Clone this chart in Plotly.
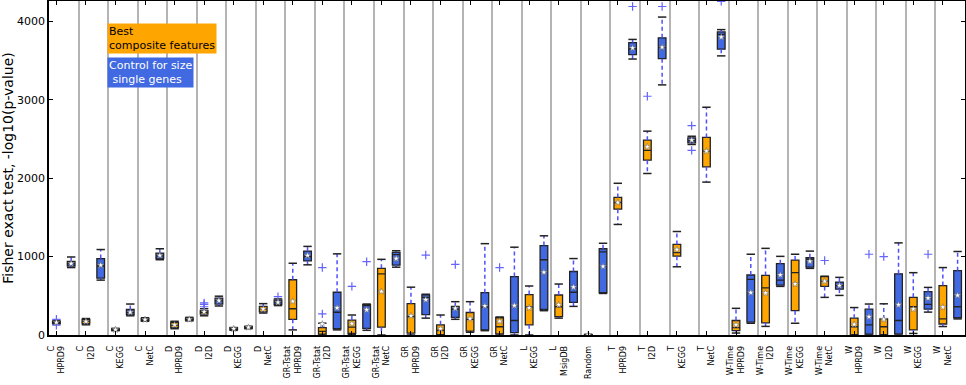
import plotly.graph_objects as go

groups = ["C", "C", "C", "C", "D", "D", "D", "D",
          "GR-Tstat", "GR-Tstat", "GR-Tstat", "GR-Tstat",
          "GR", "GR", "GR", "GR", "L", "L", "Random",
          "T", "T", "T", "T", "W-Time", "W-Time", "W-Time", "W-Time",
          "W", "W", "W", "W"]
networks = ["HPRD9", "I2D", "KEGG", "NetC", "HPRD9", "I2D", "KEGG", "NetC",
            "HPRD9", "I2D", "KEGG", "NetC", "HPRD9", "I2D", "KEGG", "NetC",
            "KEGG", "MsigDB", "", "HPRD9", "I2D", "KEGG", "NetC",
            "HPRD9", "I2D", "KEGG", "NetC", "HPRD9", "I2D", "KEGG", "NetC"]

# Best composite features (orange)
comp_q1 = [150, 145, 60, 185, 95, 265, 70, 295, 200, 10, 20, 100, 25, 5, 50, 15,
           130, 235, 0, 1605, 2230, 1005, 2145, 55, 155, 310, 620, 5, 5, 65, 140]
comp_med = [160, 175, 68, 197, 125, 290, 80, 335, 335, 45, 100, 780, 235, 60, 200, 105,
            360, 360, 2, 1690, 2355, 1050, 2350, 95, 600, 795, 690, 105, 105, 360, 205]
comp_q3 = [172, 195, 78, 210, 160, 310, 90, 365, 705, 95, 190, 850, 400, 130, 287, 220,
           515, 510, 5, 1755, 2485, 1155, 2520, 185, 760, 955, 745, 215, 205, 480, 630]
comp_lo = [140, 130, 55, 175, 80, 245, 60, 280, 65, 0, 5, 0, 0, 0, 35, 0,
           0, 215, 0, 1410, 2060, 870, 1950, 25, 110, 150, 480, 0, 0, 20, 108]
comp_hi = [180, 210, 85, 220, 175, 335, 95, 400, 915, 150, 255, 965, 610, 255, 425, 230,
           625, 650, 8, 1935, 2600, 1320, 2905, 340, 1105, 1030, 750, 350, 398, 795, 860]
comp_mean = [160, 172, 68, 197, 128, 295, 80, 330, 430, 140, 145, 555, 245, 80, 210, 175,
             345, 385, 3, 1690, 2400, 1090, 2345, 130, 535, 650, 685, 135, 200, 330, 355]
comp_out = [[200, 125], [], [], [], [], [360, 390, 410], [], [], [], [270, 860], [620], [],
            [], [], [], [860], [], [], [], [], [3045], [], [], [], [], [], [950],
            [], [1000], [], []]

# Control for size single genes (blue)
ctrl_q1 = [880, 725, 260, 975, 190, 395, 88, 390, 945, 80, 85, 890, 260, 225, 65, 30,
           325, 415, 540, 3575, 3525, 2450, 3645, 165, 635, 865, 585, 10, 15, 330, 220]
ctrl_med = [910, 880, 290, 1010, 200, 440, 97, 420, 1000, 290, 375, 1025, 480, 330, 355, 185,
            960, 545, 1060, 3650, 3675, 2480, 3835, 710, 700, 965, 630, 130, 185, 390, 360]
ctrl_q3 = [940, 975, 325, 1045, 212, 470, 105, 445, 1070, 545, 388, 1055, 512, 365, 540, 745,
           1140, 810, 1100, 3730, 3790, 2515, 3865, 765, 910, 985, 675, 330, 780, 552, 820]
ctrl_lo = [860, 700, 245, 960, 180, 370, 80, 375, 895, 65, 60, 865, 215, 200, 55, 0,
           310, 365, 530, 3520, 3190, 2430, 3560, 150, 620, 850, 505, 0, 0, 292, 205]
ctrl_hi = [995, 1090, 395, 1100, 225, 495, 112, 460, 1130, 1035, 395, 1075, 520, 425, 1165, 1120,
           1265, 975, 1170, 3770, 4055, 2535, 3895, 1030, 1003, 1070, 735, 395, 1175, 607, 1065]
ctrl_mean = [910, 890, 289, 1014, 200, 439, 97, 417, 1014, 345, 320, 975, 450, 340, 370, 375,
             800, 610, 875, 3660, 3670, 2485, 3800, 540, 765, 940, 630, 232, 385, 470, 505]
ctrl_out = [[], [], [], [], [], [], [], [490], [], [], [935], [], [1020], [900], [], [],
            [], [], [], [4190], [4190], [2670, 2355], [4255], [], [], [], [],
            [1030], [], [1030], []]

y_ticks = [0, 1000, 2000, 3000, 4000]

tick_text = [g if not n else f"{g}<br>{n}" for g, n in zip(groups, networks)]
n = len(groups)
pos_c = [i + 0.25 for i in range(n)]
pos_s = [i + 0.75 for i in range(n)]

FONT = "DejaVu Sans"
WHISK = "rgb(80,80,255)"
fig = go.Figure()


def add_series(pos, q1, med, q3, lo, hi, mean, out, fill):
    fig.add_trace(go.Box(x=pos, q1=q1, median=med, q3=q3, lowerfence=q1, upperfence=q3,
                         fillcolor=fill, line=dict(color="#222", width=1.3), width=0.26,
                         whiskerwidth=0, boxpoints=False, showlegend=False, hoverinfo="skip"))
    wx, wy = [], []
    for p, a, b, c, d in zip(pos, q1, q3, lo, hi):
        wx += [p, p, None, p, p, None]
        wy += [b, d, None, a, c, None]
    fig.add_trace(go.Scatter(x=wx, y=wy, mode="lines", showlegend=False, hoverinfo="skip",
                             line=dict(color=WHISK, width=1.5, dash="4px,3px")))
    cx, cy = [], []
    for p, c, d in zip(pos, lo, hi):
        cx += [p, p]
        cy += [c, d]
    fig.add_trace(go.Scatter(x=cx, y=cy, mode="markers", showlegend=False, hoverinfo="skip",
                             marker=dict(symbol="line-ew", size=6,
                                         line=dict(color="#222", width=1.5))))
    ox, oy = [], []
    for p, o in zip(pos, out):
        for v in o:
            ox.append(p)
            oy.append(v)
    fig.add_trace(go.Scatter(x=ox, y=oy, mode="markers", showlegend=False, hoverinfo="skip",
                             marker=dict(symbol="cross-thin", size=6,
                                         line=dict(color="rgb(100,100,255)", width=1.2))))
    fig.add_trace(go.Scatter(x=pos, y=mean, mode="markers", showlegend=False, hoverinfo="skip",
                             marker=dict(symbol="star", size=5, color="white",
                                         line=dict(color="#666", width=0.5))))


add_series(pos_c, comp_q1, comp_med, comp_q3, comp_lo, comp_hi, comp_mean, comp_out, "#FFA500")
add_series(pos_s, ctrl_q1, ctrl_med, ctrl_q3, ctrl_lo, ctrl_hi, ctrl_mean, ctrl_out, "#4169E1")

fig.add_annotation(text="Best<br>composite features", xref="paper", yref="paper",
                   x=(107 - 49) / 916, y=(335 - 23) / 334, xanchor="left", yanchor="top",
                   align="left", showarrow=False, bgcolor="#FFA500", borderpad=1,
                   font=dict(family=FONT, size=11, color="black"))
fig.add_annotation(text="Control for size<br> single genes", xref="paper", yref="paper",
                   x=(107 - 49) / 916, y=(335 - 57) / 334, xanchor="left", yanchor="top",
                   align="left", showarrow=False, bgcolor="#4169E1", borderpad=1,
                   font=dict(family=FONT, size=11, color="white"))

fig.update_layout(
    width=966, height=385,
    margin=dict(l=49, r=1, t=1, b=50),
    paper_bgcolor="white", plot_bgcolor="white",
    font=dict(family=FONT, color="black"),
    boxmode="overlay",
    xaxis=dict(range=[0, n], tickmode="array", tickvals=pos_c, ticktext=tick_text,
               tickangle=-90, tickfont=dict(family=FONT, size=8),
               ticks="inside", ticklen=4, tickcolor="black", ticklabelstandoff=6,
               showline=True, linecolor="black", linewidth=1.5, mirror="ticks",
               showgrid=False, zeroline=False, automargin=False,
               minor=dict(tickvals=list(range(1, n)), showgrid=True,
                          gridcolor="#b4b4b4", gridwidth=2, ticks="")),
    yaxis=dict(range=[0, 4260], tickvals=y_ticks, ticktext=[str(v) for v in y_ticks],
               tickfont=dict(family=FONT, size=11), automargin=False,
               ticks="inside", ticklen=4, tickcolor="black",
               showline=True, linecolor="black", linewidth=1.5, mirror="ticks",
               showgrid=False, zeroline=False,
               title=dict(text="Fisher exact test, -log10(p-value)",
                          font=dict(family=FONT, size=14), standoff=6)),
)

fig.write_html("out.html", config={"displayModeBar": False},
               post_script="document.body.style.margin='0';document.body.style.overflow='hidden';")
